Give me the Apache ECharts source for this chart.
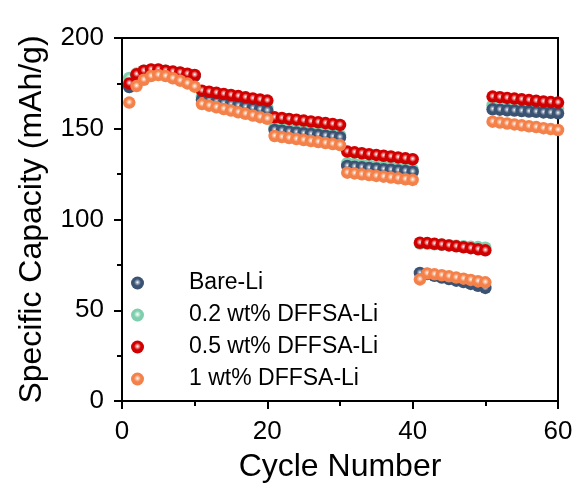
<!DOCTYPE html>
<html>
<head>
<meta charset="utf-8">
<script src="https://cdn.jsdelivr.net/npm/echarts@6/dist/echarts.min.js"></script>
<style>html,body{margin:0;padding:0;background:#fff}#c{width:577px;height:490px}</style>
</head>
<body>
<div id="c"></div>
<script>
const seriesNames = ['Bare-Li', '0.2 wt% DFFSA-Li', '0.5 wt% DFFSA-Li', '1 wt% DFFSA-Li'];
const cycles = Array.from({length: 60}, (_, i) => i + 1);
const bareLi = [
  173, 179.5, 181.5, 182, 182, 181.5, 181, 180.5, 179.8, 179,
  166, 165.4, 164.7, 164, 163.4, 162.7, 162, 161.3, 160.7, 160,
  149.3, 148.9, 148.4, 148, 147.5, 147.1, 146.6, 146.2, 145.7, 145.3,
  129.5, 129.1, 128.8, 128.4, 128.1, 127.7, 127.4, 127, 126.7, 126.3,
  70.5, 70, 69, 68, 67.2, 66.3, 65.5, 64.5, 63.5, 62.3,
  160.7, 160.5, 160.2, 160, 159.8, 159.5, 159.3, 159, 158.8, 158.5
];
const wt02 = [
  178, 180.5, 182, 182.5, 182.5, 182, 181.3, 180.8, 180, 179.3,
  167.5, 166.9, 166.2, 165.6, 164.9, 164.3, 163.6, 163, 162.3, 161.6,
  150.5, 150.1, 149.6, 149.2, 148.7, 148.3, 147.8, 147.4, 146.9, 146.5,
  131, 130.6, 130.2, 129.8, 129.4, 129, 128.7, 128.3, 127.9, 127.5,
  86.8, 86.6, 86.3, 86.1, 85.8, 85.5, 85.3, 85, 84.8, 84.5,
  163, 162.8, 162.6, 162.3, 162.1, 161.9, 161.7, 161.4, 161.2, 161
];
const wt05 = [
  175, 180, 182, 182.7, 182.7, 182, 181.5, 181, 180.3, 179.6,
  171, 170.4, 169.8, 169.2, 168.6, 168, 167.3, 166.7, 166.1, 165.5,
  156.3, 155.9, 155.4, 155, 154.5, 154, 153.6, 153.1, 152.6, 152.1,
  137.4, 137, 136.5, 136, 135.6, 135.1, 134.7, 134.2, 133.7, 133.2,
  87.2, 87, 86.6, 86.2, 85.7, 85.2, 84.7, 84.2, 83.6, 83,
  167.7, 167.4, 167, 166.6, 166.2, 165.8, 165.4, 165, 164.7, 164.4
];
const wt1 = [
  164.4, 173.5, 177, 179, 179.6, 179, 177.8, 176.5, 175, 173.2,
  163.6, 162.7, 161.8, 160.9, 160, 159.1, 158.2, 157.3, 156.4, 155.5,
  146, 145.4, 144.9, 144.3, 143.8, 143.2, 142.7, 142.1, 141.6, 141,
  125.8, 125.4, 124.9, 124.5, 124, 123.6, 123.1, 122.7, 122.2, 121.8,
  67, 70.3, 69.8, 69.3, 68.7, 68, 67.4, 66.7, 66, 65.4,
  153.9, 153.4, 152.9, 152.4, 151.9, 151.4, 150.9, 150.3, 149.8, 149.3
];
const yTicks = [0, 50, 100, 150, 200];
const xTicks = [0, 20, 40, 60];

const colors = ['#3b5373', '#7fcfae', '#d10000', '#f4814a'];
const light = ['#9aa8bb', '#c6ecdd', '#ef8a8a', '#fbc1a3'];
const dark = ['#26384f', '#56ad8c', '#a00000', '#d8642c'];
const zs = [3, 2, 4, 5];
const allData = [bareLi, wt02, wt05, wt1];

function ball(i) {
  return {
    type: 'radial', x: 0.5, y: 0.45, r: 0.6,
    colorStops: [
      {offset: 0, color: '#ffffff'},
      {offset: 0.2, color: light[i]},
      {offset: 0.45, color: colors[i]},
      {offset: 0.85, color: colors[i]},
      {offset: 1, color: dark[i]}
    ]
  };
}

const FONT = 'Arial, "Liberation Sans", sans-serif';
const chart = echarts.init(document.getElementById('c'), null, {renderer: 'canvas'});
chart.setOption({
  animation: false,
  backgroundColor: '#fff',
  grid: {left: 122, right: 19, top: 38, bottom: 89, show: true, borderColor: '#000', borderWidth: 2},
  legend: {
    orient: 'vertical', left: 126, top: 266,
    itemWidth: 13, itemHeight: 13, itemGap: 8,
    icon: 'circle',
    data: seriesNames,
    textStyle: {fontFamily: FONT, fontSize: 23, color: '#000', lineHeight: 24, padding: [0, 0, 0, 40]}
  },
  xAxis: {
    type: 'value', min: 0, max: 60, interval: 20,
    name: 'Cycle Number', nameLocation: 'middle', nameGap: 50,
    nameTextStyle: {fontFamily: FONT, fontSize: 32, color: '#000'},
    axisLine: {show: true, onZero: false, lineStyle: {color: '#000', width: 2}},
    axisTick: {show: true, inside: false, length: 8, lineStyle: {color: '#000', width: 2}},
    minorTick: {show: true, splitNumber: 2, length: 5, lineStyle: {color: '#000', width: 2}},
    axisLabel: {fontFamily: FONT, fontSize: 26, color: '#000', margin: 18,
      formatter: v => xTicks.includes(v) ? String(v) : ''},
    splitLine: {show: false}
  },
  yAxis: {
    type: 'value', min: 0, max: 200, interval: 50,
    name: 'Specific Capacity (mAh/g)', nameLocation: 'middle', nameGap: 74, nameRotate: 90,
    nameTextStyle: {fontFamily: FONT, fontSize: 32, color: '#000'},
    axisLine: {show: true, onZero: false, lineStyle: {color: '#000', width: 2}},
    axisTick: {show: true, inside: false, length: 8, lineStyle: {color: '#000', width: 2}},
    minorTick: {show: true, splitNumber: 2, length: 5, lineStyle: {color: '#000', width: 2}},
    axisLabel: {fontFamily: FONT, fontSize: 26, color: '#000', margin: 18,
      formatter: v => yTicks.includes(v) ? String(v) : ''},
    splitLine: {show: false}
  },
  series: seriesNames.map((n, i) => ({
    name: n, type: 'scatter', z: zs[i],
    symbol: 'circle', symbolSize: 12.5,
    itemStyle: {color: ball(i), opacity: 1},
    data: cycles.map((c, k) => [c, allData[i][k]])
  }))
});
</script>
</body>
</html>
